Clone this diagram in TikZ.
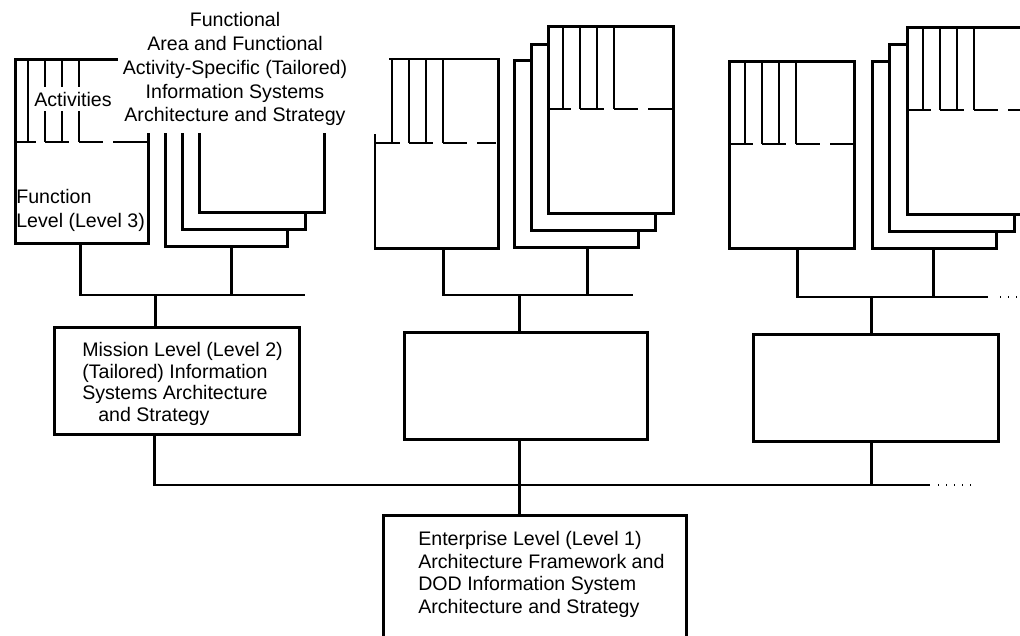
\documentclass[tikz,border=0pt]{standalone}
\usepackage{fontspec}
\setmainfont{Liberation Sans}
\begin{document}
\begin{tikzpicture}[x=1pt,y=-1pt,
  every path/.style={line width=2.6pt},
  sheet/.style={draw, fill=white, line width=2.6pt, inner sep=0pt, anchor=north west},
  txt/.style={font=\fontsize{19.6}{23.5}\selectfont, inner sep=0pt},
  dots/.style={line width=1.3pt, dash pattern=on 1.3pt off 6.7pt}]
\newcommand\tabsfor[5]{%
  \foreach \k in {0,1,2,3} {\draw ({#1+#5+17*\k},{#2}) -- ({#1+#5+17*\k},{#3});}
  \draw ({#1},{#3}) -- ({#1+#5+8},{#3});
  \draw ({#1+#5+17},{#3}) -- ({#1+#5+41},{#3});
  \draw ({#1+#5+51},{#3}) -- ({#1+#5+75},{#3});
  \draw ({#1+#5+85},{#3}) -- ({#4},{#3});
}
\fill[white] (0,0) rectangle (1020,635);
\useasboundingbox (0,0) rectangle (1020,635);

% ---------- group 1 ----------
\node[sheet, minimum width=122pt, minimum height=186pt] (g1a) at (164,59) {};
\node[sheet, minimum width=123pt, minimum height=185pt] (g1b) at (181,43) {};
\node[sheet, minimum width=125pt, minimum height=186pt] (g1c) at (198,25) {};
\node[sheet, minimum width=133pt, minimum height=184pt] (f1) at (14,58) {};
\tabsfor{14}{58}{142}{147}{14}
\node[txt, fill=white, inner sep=2pt, minimum height=24pt] (act) at (73,99) {Activities};
\node[txt, align=left, anchor=north west] (flt) at (15,188)
  {Function\\Level (Level 3)};
\node[txt, fill=white, align=center, minimum width=234pt, minimum height=127pt,
  font=\fontsize{19.6}{23.75}\selectfont] (ft) at (235,69.4)
  {Functional\\Area and Functional\\Activity-Specific (Tailored)\\Information Systems\\Architecture and Strategy};

% ---------- group 2 ----------
\node[sheet, minimum width=124pt, minimum height=187pt] (g2a) at (513,59) {};
\node[sheet, minimum width=124pt, minimum height=186pt] (g2b) at (530,43) {};
\node[sheet, minimum width=125pt, minimum height=187pt] (g2c) at (547,25) {};
\tabsfor{547}{25}{109}{672}{16}
\node[sheet, draw=none, minimum width=121pt, minimum height=187pt] (f2) at (375,59) {};
\draw (f2.west |- 0,134) -- (f2.south west) -- (f2.south east) -- (f2.north east)
  -- ([xshift=14pt]f2.north west);
\tabsfor{375}{59}{143}{496}{17}

% ---------- group 3 ----------
\node[sheet, minimum width=124pt, minimum height=187pt] (g3a) at (871,60) {};
\node[sheet, minimum width=125pt, minimum height=187pt] (g3b) at (888,43) {};
\node[sheet, minimum width=130pt, minimum height=187pt] (g3c) at (906,26) {};
\tabsfor{906}{26}{110}{1036}{17}
\node[sheet, minimum width=125pt, minimum height=187pt] (f3) at (728,60) {};
\tabsfor{728}{60}{144}{853}{17}

% ---------- level 2 boxes ----------
\node[sheet, minimum width=245pt, minimum height=107pt] (m1) at (53,326) {};
\node[txt, align=left, anchor=north west, font=\fontsize{19.6}{21.7}\selectfont] (mt) at (81,341)
  {Mission Level (Level 2)\\(Tailored) Information\\Systems Architecture\\\hspace*{16pt}and Strategy};
\node[sheet, minimum width=243pt, minimum height=107pt] (m2) at (403,331) {};
\node[sheet, minimum width=245pt, minimum height=107pt] (m3) at (752,333) {};

% ---------- level 1 box ----------
\node[sheet, minimum width=303pt, minimum height=140pt] (e) at (382,514) {};
\node[txt, align=left, anchor=north west, font=\fontsize{19.6}{22.7}\selectfont] (et) at (417,530)
  {Enterprise Level (Level 1)\\Architecture Framework and\\DOD Information System\\Architecture and Strategy};

% ---------- buses ----------
\coordinate (b1R) at (305,295);
\coordinate (b2R) at (633,295);
\coordinate (b3R) at (988,297);
\coordinate (b3D) at (1022,297);
\coordinate (lbR) at (930,485);
\coordinate (lbD) at (972,485);

\draw ([xshift=-1.5pt]f1.south) |- (b1R);
\draw ([xshift=5pt]g1a.south) -- ([xshift=5pt]g1a.south |- b1R);
\draw ([xshift=-21.5pt]m1.north) -- ([xshift=-21.5pt]m1.north |- b1R);

\draw ([xshift=6.5pt]f2.south) |- (b2R);
\draw ([xshift=11pt]g2a.south) -- ([xshift=11pt]g2a.south |- b2R);
\draw ([xshift=-6.5pt]m2.north) -- ([xshift=-6.5pt]m2.north |- b2R);

\draw ([xshift=5.5pt]f3.south) |- (b3R);
\draw ([xshift=-1pt]g3a.south) -- ([xshift=-1pt]g3a.south |- b3R);
\draw ([xshift=-4.5pt]m3.north) -- ([xshift=-4.5pt]m3.north |- b3R);
\draw[dots] ([xshift=12pt]b3R) -- (b3D);

\draw ([xshift=-22.5pt]m1.south) |- (lbR);
\draw ([xshift=-4.5pt]m3.south) -- ([xshift=-4.5pt]m3.south |- lbR);
\draw ([xshift=-6.5pt]m2.south) -- ([xshift=-15.5pt]e.north);
\draw[dots] ([xshift=8pt]lbR) -- (lbD);
\end{tikzpicture}
\end{document}
